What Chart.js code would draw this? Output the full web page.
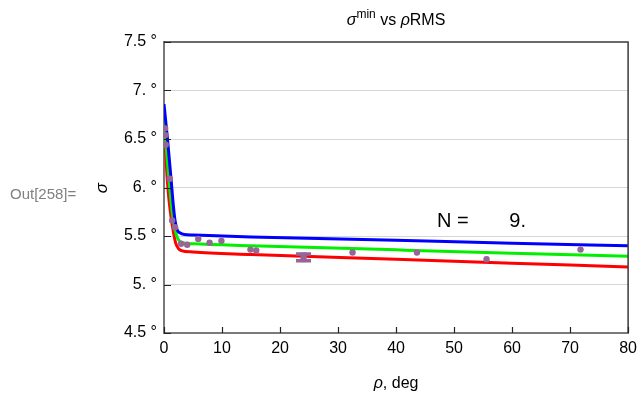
<!doctype html>
<html lang="en">
<head>
<meta charset="utf-8">
<title>sigma min vs rho RMS</title>
<style>
  * { margin: 0; padding: 0; }
  body { background: #fff; }
</style>
</head>
<body>
<canvas id="myChart" width="643" height="394"></canvas>
<script src="https://cdn.jsdelivr.net/npm/chart.js"></script>
<script>
// measured sigma at each rho
const rhoPts   = [0.2, 0.25, 0.3, 1.0, 1.4, 1.9, 2.95, 4.0, 5.9, 7.85, 9.9, 14.9, 15.9, 32.5, 43.6, 55.6, 71.8];
const sigmaPts = [6.61, 6.54, 6.44, 6.09, 5.66, 5.59, 5.42, 5.41, 5.47, 5.43, 5.45, 5.36, 5.35, 5.33, 5.33, 5.26, 5.36];

// the one point carrying an error bar
const errRho  = [24.05];
const errMid  = [5.28];
const errLow  = [5.23];
const errHigh = [5.33];

// fitted curves
const blueRho    = [0, 0.6, 1.2, 1.6, 1.9, 2.3, 2.8, 3.5, 5, 15, 40, 60, 80];
const blueSigma  = [6.86, 6.5, 6.1, 5.82, 5.66, 5.56, 5.53, 5.515, 5.51, 5.49, 5.455, 5.425, 5.40];
const greenRho   = [0, 0.4, 0.85, 1.3, 1.6, 1.95, 2.4, 3, 5, 15, 40, 60, 80];
const greenSigma = [6.75, 6.4, 6.08, 5.8, 5.66, 5.55, 5.47, 5.435, 5.42, 5.40, 5.357, 5.323, 5.29];
const redRho     = [0, 0.3, 0.56, 0.9, 1.3, 1.6, 2.0, 2.5, 3, 5, 15, 40, 60, 80];
const redSigma   = [6.62, 6.35, 6.08, 5.85, 5.66, 5.55, 5.43, 5.37, 5.35, 5.335, 5.31, 5.26, 5.22, 5.18];

const xTicks = [0, 10, 20, 30, 40, 50, 60, 70, 80];
const yTicks = [4.5, 5, 5.5, 6, 6.5, 7, 7.5];

const pointColor = 'rgb(152, 101, 152)';
const FONT = '"Liberation Sans", Arial, sans-serif';

const toXY = (xs, ys) => xs.map((x, i) => ({ x: x, y: ys[i] }));

function curve(label, xs, ys, color) {
  return {
    label: label,
    type: 'line',
    data: toXY(xs, ys),
    borderColor: color,
    backgroundColor: color,
    borderWidth: 3,
    pointRadius: 0,
    cubicInterpolationMode: 'monotone',
    fill: false
  };
}

// draw a run of text pieces with different fonts, left to right
function drawPieces(ctx, pieces, x, y, align) {
  let total = 0;
  pieces.forEach(p => { ctx.font = p.font; p.w = ctx.measureText(p.text).width; total += p.w; });
  let cx = align === 'center' ? x - total / 2 : x;
  ctx.textAlign = 'left';
  ctx.textBaseline = 'alphabetic';
  pieces.forEach(p => {
    ctx.font = p.font;
    ctx.fillText(p.text, cx, y + (p.dy || 0));
    cx += p.w;
  });
}

const decor = {
  id: 'decor',
  afterDatasetsDraw(chart) {
    const ctx = chart.ctx;
    const xs = chart.scales.x, ys = chart.scales.y;
    const a = chart.chartArea;
    ctx.save();

    // error bar
    ctx.strokeStyle = pointColor;
    errRho.forEach((r, i) => {
      const px = xs.getPixelForValue(r);
      const lo = ys.getPixelForValue(errLow[i]);
      const hi = ys.getPixelForValue(errHigh[i]);
      ctx.lineWidth = 6;
      ctx.beginPath(); ctx.moveTo(px, hi); ctx.lineTo(px, lo); ctx.stroke();
      ctx.lineWidth = 3.5;
      ctx.beginPath();
      ctx.moveTo(px - 7.5, hi + 1.5); ctx.lineTo(px + 7.5, hi + 1.5);
      ctx.moveTo(px - 7.5, lo - 1.5); ctx.lineTo(px + 7.5, lo - 1.5);
      ctx.stroke();
      ctx.fillStyle = pointColor;
      ctx.beginPath(); ctx.arc(px, ys.getPixelForValue(errMid[i]), 3, 0, Math.PI * 2); ctx.fill();
    });

    // frame top and right
    ctx.strokeStyle = '#3a3a3a';
    ctx.lineWidth = 1.5;
    ctx.beginPath();
    ctx.moveTo(a.left, a.top); ctx.lineTo(a.right, a.top); ctx.lineTo(a.right, a.bottom);
    ctx.stroke();

    // inward tick marks
    ctx.strokeStyle = '#222';
    ctx.lineWidth = 1.2;
    ctx.beginPath();
    yTicks.forEach(v => {
      const py = Math.round(ys.getPixelForValue(v)) + 0.5;
      ctx.moveTo(a.left, py); ctx.lineTo(a.left + 7, py);
    });
    xTicks.forEach(v => {
      const px = Math.round(xs.getPixelForValue(v)) + 0.5;
      ctx.moveTo(px, a.bottom); ctx.lineTo(px, a.bottom - 6);
    });
    ctx.stroke();

    // sample size label
    ctx.fillStyle = '#000';
    ctx.font = '20px ' + FONT;
    ctx.textBaseline = 'alphabetic';
    ctx.textAlign = 'left';
    ctx.fillText('N =', a.left + 273, a.top + 185);
    ctx.textAlign = 'right';
    ctx.fillText('9.', a.left + 362, a.top + 185);

    // title
    drawPieces(ctx, [
      { text: 'σ', font: 'italic 16px ' + FONT },
      { text: 'min', font: '12px ' + FONT, dy: -7 },
      { text: ' vs ', font: '16px ' + FONT },
      { text: 'ρ', font: 'italic 16px ' + FONT },
      { text: 'RMS', font: '16px ' + FONT }
    ], (a.left + a.right) / 2, 25, 'center');

    // x axis title
    drawPieces(ctx, [
      { text: 'ρ', font: 'italic 16px ' + FONT },
      { text: ', deg', font: '16px ' + FONT }
    ], (a.left + a.right) / 2, 388, 'center');

    // y axis title, rotated
    ctx.save();
    ctx.translate(102, 188);
    ctx.rotate(-Math.PI / 2);
    ctx.font = 'italic 17px ' + FONT;
    ctx.textAlign = 'center';
    ctx.textBaseline = 'middle';
    ctx.fillText('σ', 0, 0);
    ctx.restore();

    // notebook output label
    ctx.fillStyle = '#808080';
    ctx.font = '15px ' + FONT;
    ctx.textAlign = 'left';
    ctx.textBaseline = 'alphabetic';
    ctx.fillText('Out[258]=', 10, 199);

    ctx.restore();
  }
};

const data = {
  datasets: [
    {
      label: 'measured',
      type: 'scatter',
      data: toXY(rhoPts, sigmaPts),
      backgroundColor: pointColor,
      borderWidth: 0,
      pointRadius: 3.2
    },
    curve('blue', blueRho, blueSigma, '#0000ff'),
    curve('green', greenRho, greenSigma, '#00f000'),
    curve('red', redRho, redSigma, '#ff0000')
  ]
};

const config = {
  type: 'scatter',
  data,
  options: {
    responsive: false,
    animation: false,
    devicePixelRatio: 1,
    layout: { padding: { top: 42, right: 10, bottom: 0, left: 0 } },
    plugins: {
      legend: { display: false },
      tooltip: { enabled: false }
    },
    scales: {
      x: {
        type: 'linear',
        min: 0,
        max: 80,
        afterBuildTicks: s => { s.ticks = xTicks.map(v => ({ value: v })); },
        afterFit: s => { s.height = 61; },
        ticks: {
          color: '#000',
          font: { family: FONT, size: 16 },
          padding: 6,
          maxRotation: 0
        },
        grid: { display: false, drawTicks: false },
        border: { display: true, color: '#7a7a7a', width: 2 }
      },
      y: {
        type: 'linear',
        min: 4.5,
        max: 7.5,
        afterBuildTicks: s => { s.ticks = yTicks.map(v => ({ value: v })); },
        afterFit: s => { s.width = 164; },
        ticks: {
          color: '#000',
          font: { family: FONT, size: 16 },
          padding: 7,
          callback: v => (Number.isInteger(v) ? v + '.' : v) + ' °'
        },
        grid: {
          drawTicks: false,
          color: c => (c.tick && c.tick.value > 4.5 && c.tick.value < 7.5) ? '#d6d6d6' : 'rgba(0,0,0,0)',
          lineWidth: 1
        },
        border: { display: true, color: '#7a7a7a', width: 2 }
      }
    }
  },
  plugins: [decor]
};

const myChart = new Chart(document.getElementById('myChart'), config);
</script>
</body>
</html>
